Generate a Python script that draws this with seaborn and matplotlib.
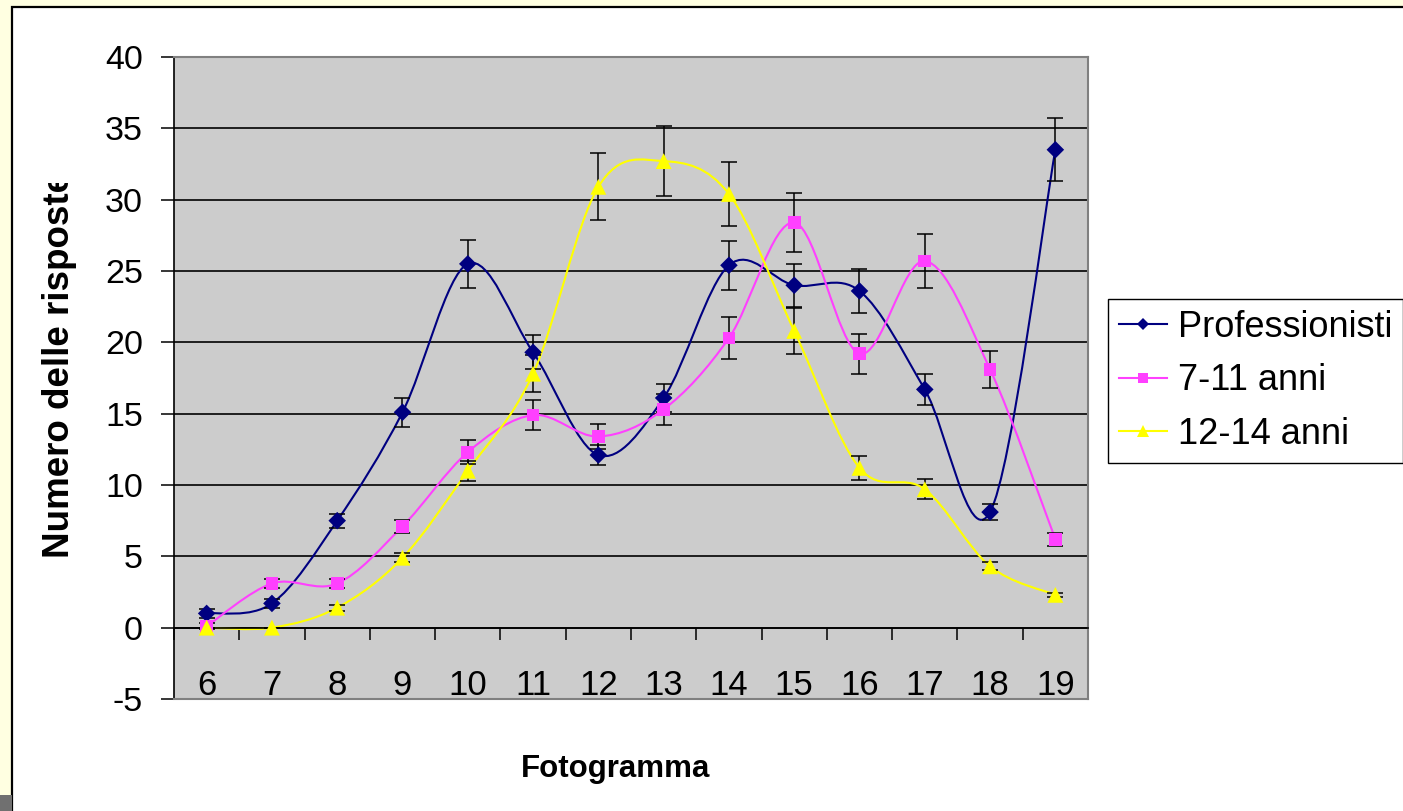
import numpy as np
import pandas as pd
import matplotlib
matplotlib.use("Agg")
import matplotlib.pyplot as plt
import seaborn as sns
from matplotlib.path import Path
from matplotlib.patches import PathPatch, Rectangle
from matplotlib.lines import Line2D
from matplotlib.transforms import Bbox

# data
fotogrammi = [6, 7, 8, 9, 10, 11, 12, 13, 14, 15, 16, 17, 18, 19]
professionisti = [1.0, 1.7, 7.5, 15.1, 25.5, 19.3, 12.1, 16.1, 25.4, 24.0, 23.6, 16.7, 8.1, 33.5]
professionisti_err = [0.3, 0.3, 0.5, 1.0, 1.7, 1.2, 0.7, 1.0, 1.7, 1.5, 1.55, 1.1, 0.55, 2.2]
anni_7_11 = [0.1, 3.1, 3.1, 7.1, 12.3, 14.9, 13.4, 15.3, 20.3, 28.4, 19.2, 25.7, 18.1, 6.2]
anni_7_11_err = [0.2, 0.3, 0.3, 0.45, 0.85, 1.05, 0.9, 1.1, 1.5, 2.1, 1.4, 1.9, 1.3, 0.45]
anni_12_14 = [0.0, 0.0, 1.4, 4.9, 11.0, 17.8, 30.9, 32.7, 30.4, 20.8, 11.2, 9.7, 4.3, 2.3]
anni_12_14_err = [0.0, 0.0, 0.2, 0.3, 0.7, 1.3, 2.35, 2.45, 2.25, 1.6, 0.85, 0.7, 0.27, 0.16]

gruppi = ["Professionisti", "7-11 anni", "12-14 anni"]
colori = {"Professionisti": "#000080", "7-11 anni": "#FF40FF", "12-14 anni": "#FFFF00"}
marker = {"Professionisti": "D", "7-11 anni": "s", "12-14 anni": "^"}
size = {"Professionisti": 80, "7-11 anni": 85, "12-14 anni": 130}

serie = {"Professionisti": (professionisti, professionisti_err),
         "7-11 anni": (anni_7_11, anni_7_11_err),
         "12-14 anni": (anni_12_14, anni_12_14_err)}

df = pd.DataFrame({
    "Fotogramma": fotogrammi * 3,
    "Risposte": professionisti + anni_7_11 + anni_12_14,
    "Gruppo": [g for g in gruppi for _ in fotogrammi],
})


def smooth_path(xs, ys):
    # excel-like smoothed line (catmull-rom -> bezier)
    pts = np.column_stack([xs, ys]).astype(float)
    p = np.vstack([pts[0], pts, pts[-1]])
    verts = [pts[0]]
    codes = [Path.MOVETO]
    for i in range(len(pts) - 1):
        p0, p1, p2, p3 = p[i], p[i + 1], p[i + 2], p[i + 3]
        verts += [p1 + (p2 - p0) / 6, p2 - (p3 - p1) / 6, p2]
        codes += [Path.CURVE4] * 3
    return Path(verts, codes)


plt.rcParams['font.family'] = ['Liberation Sans', 'DejaVu Sans']
plt.rcParams['axes.unicode_minus'] = False

W, H = 1403, 811
fig = plt.figure(figsize=(W / 100, H / 100), dpi=100, facecolor='#FFFFE1')

# white chart area with black frame
fig.add_artist(Rectangle((12 / W, -0.1), 1.2, (H - 7) / H + 0.1, transform=fig.transFigure,
                         facecolor='white', edgecolor='black', lw=1.6, zorder=0))
fig.add_artist(Rectangle((0, 0), 12 / W, 16 / H, transform=fig.transFigure,
                         facecolor='#707070', lw=0, zorder=1))

ax = fig.add_axes([174 / W, (H - 699) / H, 914 / W, 642 / H])
ax.set_facecolor('#CCCCCC')

for g in gruppi:
    vals, errs = serie[g]
    ax.add_patch(PathPatch(smooth_path(fotogrammi, vals), fill=False,
                           edgecolor=colori[g], lw=1.5, zorder=2))
    ax.errorbar(fotogrammi, vals, yerr=errs, fmt='none', ecolor='black',
                elinewidth=1.1, capsize=5.5, capthick=1.1, zorder=3)

sns.scatterplot(data=df, x="Fotogramma", y="Risposte", hue="Gruppo", style="Gruppo",
                size="Gruppo", palette=colori, markers=marker, sizes=size,
                edgecolor='none', legend=False, ax=ax, zorder=4)

ax.set_xlim(5.5, 19.5)
ax.set_ylim(-5, 40)
ax.set_yticks(range(-5, 41, 5))
ax.set_xticks(fotogrammi)
ax.set_xticks(np.arange(5.5, 19.6, 1), minor=True)
ax.tick_params(axis='x', which='major', length=0, pad=30, labelsize=25)
ax.tick_params(axis='x', which='minor', length=8.6, width=1.1, direction='out', color='black')
ax.tick_params(axis='y', length=9.4, width=1.1, pad=13, labelsize=24.5, color='black')
ax.set_xlabel("")
ax.set_ylabel("")

ax.spines['bottom'].set_position(('data', 0))
ax.spines['bottom'].set_color('black')
ax.spines['bottom'].set_linewidth(1.2)
ax.spines['left'].set_color('black')
ax.spines['left'].set_linewidth(1.2)
for s in ['top', 'right']:
    ax.spines[s].set_color('#808080')
    ax.spines[s].set_linewidth(1.5)
ax.axhline(-5, color='#808080', lw=1.5, zorder=2.6, clip_on=False)

ax.yaxis.grid(True, color='black', lw=1.2)
ax.xaxis.grid(False)
ax.set_axisbelow(True)

# axis titles
yl = fig.text(60 / W, (H - 365) / H, "Numero delle risposte", rotation=90,
              ha='center', va='center', fontsize=26.5, fontweight='bold')
yl.set_clip_box(Bbox([[0, 0], [W, H - 183]]))
yl.set_clip_on(True)
fig.text(616 / W, (H - 777) / H, "Fotogramma", ha='center', va='baseline',
         fontsize=22.5, fontweight='bold')

handles = [Line2D([], [], color=colori[g], marker=marker[g], lw=1.5,
                  markersize={"Professionisti": 6, "7-11 anni": 7, "12-14 anni": 8}[g],
                  markeredgewidth=0) for g in gruppi]
fig.legend(handles, gruppi, loc='upper left', bbox_to_anchor=(1108 / W, (H - 299) / H),
           fontsize=26, frameon=True, fancybox=False, edgecolor='black', framealpha=1,
           borderaxespad=0, handlelength=1.33, handletextpad=0.3, borderpad=0.3,
           labelspacing=0.51)

fig.savefig("out.png", dpi=100, facecolor=fig.get_facecolor())
